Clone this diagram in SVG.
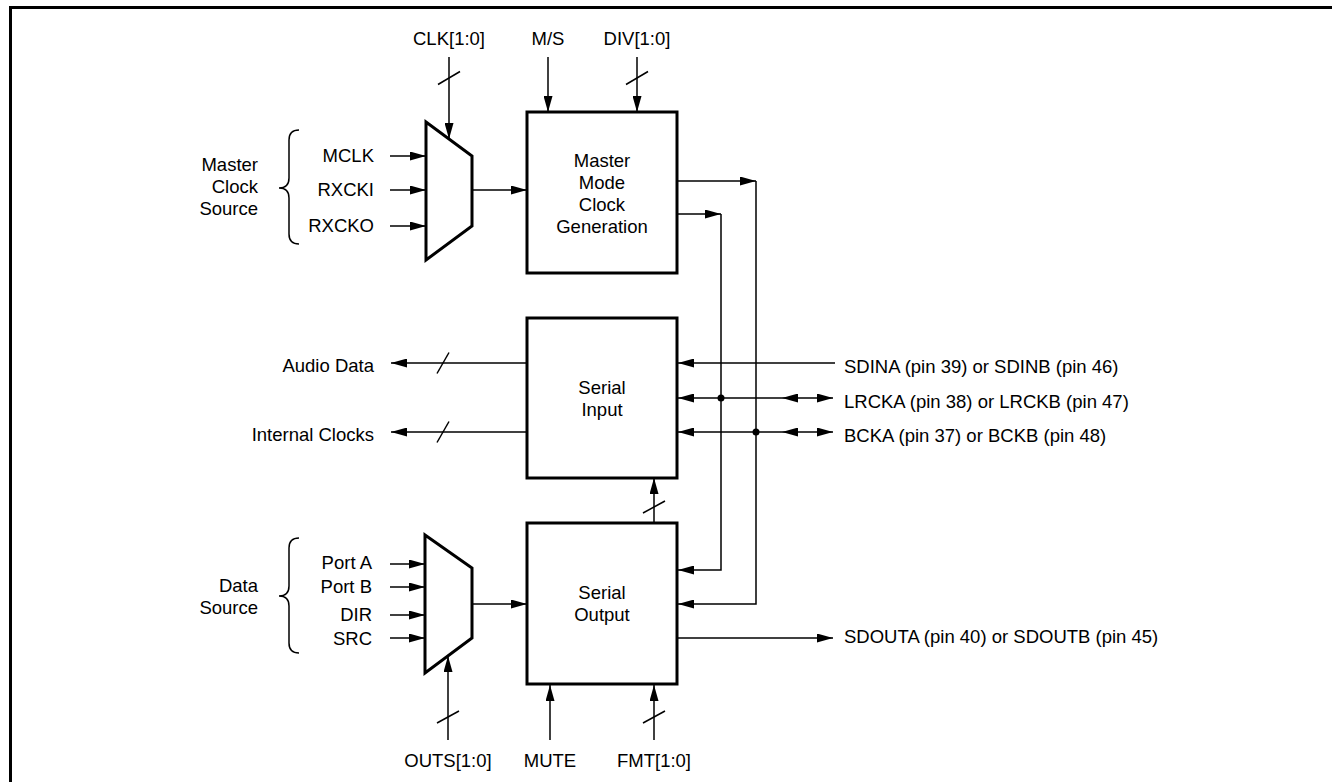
<svg xmlns="http://www.w3.org/2000/svg" width="1332" height="782" viewBox="0 0 1332 782">
<style>
.box{fill:#fff;stroke:#000;stroke-width:3}
.mux{fill:#fff;stroke:#000;stroke-width:3;stroke-linejoin:miter}
.w{fill:none;stroke:#000;stroke-width:1.5}
.frame{fill:none;stroke:#000;stroke-width:3}
.dot{fill:#000}
text{font-family:"Liberation Sans",Arial,Helvetica,sans-serif;font-size:18.5px;fill:#000}
.c{text-anchor:middle}
.r{text-anchor:end}
</style>
<defs>
<marker id="ah" viewBox="0 0 16 9" refX="16" refY="4.5" markerWidth="16" markerHeight="9" markerUnits="userSpaceOnUse" orient="auto-start-reverse">
<path d="M0,0L16,4.5L0,9z" fill="#000"/>
</marker>
</defs>
<rect width="1332" height="782" fill="#fff"/>
<path class="frame" d="M10.5,782V7.5H1332"/>

<g id="connectors">
<path class="w" d="M449,57V139" marker-end="url(#ah)"/>
<path class="w" d="M438,84.5L460,71.5"/>
<path class="w" d="M548,57V112" marker-end="url(#ah)"/>
<path class="w" d="M637,57V112" marker-end="url(#ah)"/>
<path class="w" d="M626,84.5L648,71.5"/>
<path class="w" d="M390,156H426" marker-end="url(#ah)"/>
<path class="w" d="M390,190H426" marker-end="url(#ah)"/>
<path class="w" d="M390,226H426" marker-end="url(#ah)"/>
<path class="w" d="M472,190H527" marker-end="url(#ah)"/>
<path class="w" d="M677,181H756" marker-end="url(#ah)"/>
<path class="w" d="M756,181V604H678" marker-end="url(#ah)"/>
<path class="w" d="M677,214H721" marker-end="url(#ah)"/>
<path class="w" d="M721,214V570H678" marker-end="url(#ah)"/>
<path class="w" d="M835,363H678" marker-end="url(#ah)"/>
<path class="w" d="M782,398H678" marker-end="url(#ah)"/>
<path class="w" d="M782,398H833" marker-start="url(#ah)" marker-end="url(#ah)"/>
<path class="w" d="M782,432H678" marker-end="url(#ah)"/>
<path class="w" d="M782,432H833" marker-start="url(#ah)" marker-end="url(#ah)"/>
<circle class="dot" cx="721" cy="398" r="3.5"/>
<circle class="dot" cx="756" cy="432" r="3.5"/>
<path class="w" d="M527,363H391" marker-end="url(#ah)"/>
<path class="w" d="M437,373.5L449,352.5"/>
<path class="w" d="M527,432H391" marker-end="url(#ah)"/>
<path class="w" d="M437,442.5L449,421.5"/>
<path class="w" d="M654,523V478" marker-end="url(#ah)"/>
<path class="w" d="M643,513L665,501"/>
<path class="w" d="M390,564H425" marker-end="url(#ah)"/>
<path class="w" d="M390,587H425" marker-end="url(#ah)"/>
<path class="w" d="M390,615H425" marker-end="url(#ah)"/>
<path class="w" d="M390,638H425" marker-end="url(#ah)"/>
<path class="w" d="M472,604H527" marker-end="url(#ah)"/>
<path class="w" d="M448,740V656" marker-end="url(#ah)"/>
<path class="w" d="M437,723L459,711"/>
<path class="w" d="M550,740V685" marker-end="url(#ah)"/>
<path class="w" d="M654,740V685" marker-end="url(#ah)"/>
<path class="w" d="M643,723L665,711"/>
<path class="w" d="M677,638H833" marker-end="url(#ah)"/>
</g>

<g id="master-clock-mux">
<polygon class="mux" points="426,122 472,156 472,226 426,260"/>
</g>
<g id="data-mux">
<polygon class="mux" points="425,535 472,568 472,638 425,673"/>
</g>

<g id="master-mode-clock-generation">
<rect class="box" x="527" y="112" width="150" height="161"/>
<text class="c" x="602" y="167">Master</text>
<text class="c" x="602" y="189">Mode</text>
<text class="c" x="602" y="211">Clock</text>
<text class="c" x="602" y="233">Generation</text>
</g>
<g id="serial-input">
<rect class="box" x="527" y="318" width="150" height="160"/>
<text class="c" x="602" y="394">Serial</text>
<text class="c" x="602" y="416">Input</text>
</g>
<g id="serial-output">
<rect class="box" x="527" y="523" width="150" height="161"/>
<text class="c" x="602" y="599">Serial</text>
<text class="c" x="602" y="621">Output</text>
</g>

<g id="master-clock-source">
<path class="w" d="M299,130Q289,130 289,140V178Q289,188 279,188Q289,188 289,198V234Q289,244 299,244"/>
<text class="r" x="258" y="171">Master</text>
<text class="r" x="258" y="193">Clock</text>
<text class="r" x="258" y="215">Source</text>
<text class="r" x="374" y="162">MCLK</text>
<text class="r" x="374" y="196">RXCKI</text>
<text class="r" x="374" y="232">RXCKO</text>
</g>
<g id="data-source">
<path class="w" d="M299,538Q289,538 289,548V586Q289,596 279,596Q289,596 289,606V643Q289,653 299,653"/>
<text class="r" x="258" y="592">Data</text>
<text class="r" x="258" y="614">Source</text>
<text class="r" x="372" y="569">Port A</text>
<text class="r" x="372" y="593">Port B</text>
<text class="r" x="372" y="621">DIR</text>
<text class="r" x="372" y="645">SRC</text>
</g>
<g id="top-labels">
<text class="c" x="449" y="45">CLK[1:0]</text>
<text class="c" x="548" y="45">M/S</text>
<text class="c" x="637" y="45">DIV[1:0]</text>
</g>
<g id="left-labels">
<text class="r" x="374" y="372">Audio Data</text>
<text class="r" x="374" y="441">Internal Clocks</text>
</g>
<g id="right-labels">
<text x="844" y="373">SDINA (pin 39) or SDINB (pin 46)</text>
<text x="844" y="408">LRCKA (pin 38) or LRCKB (pin 47)</text>
<text x="844" y="442">BCKA (pin 37) or BCKB (pin 48)</text>
<text x="844" y="643">SDOUTA (pin 40) or SDOUTB (pin 45)</text>
</g>
<g id="bottom-labels">
<text class="c" x="448" y="767">OUTS[1:0]</text>
<text class="c" x="550" y="767">MUTE</text>
<text class="c" x="654" y="767">FMT[1:0]</text>
</g>
</svg>
